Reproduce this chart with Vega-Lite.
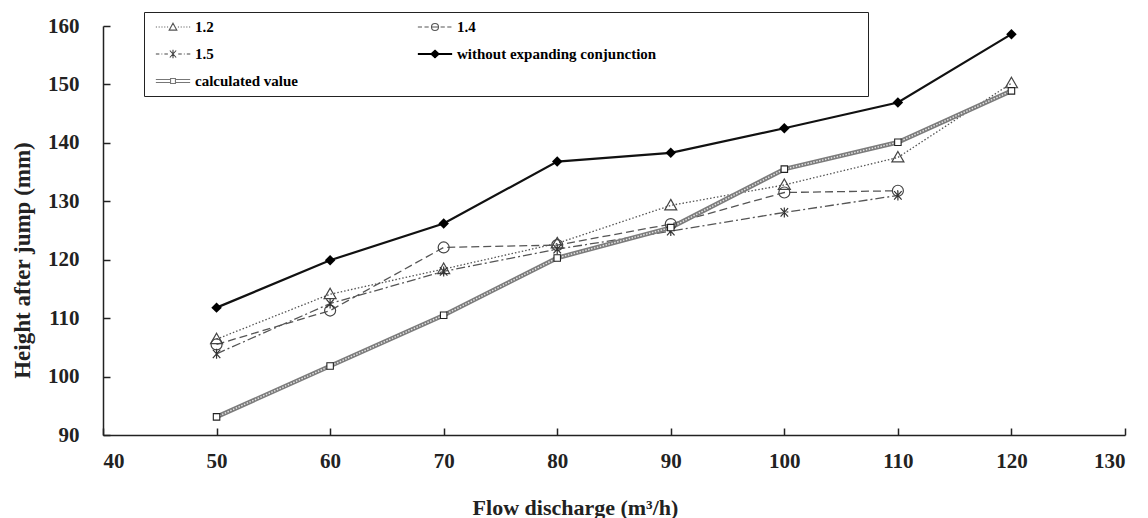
{
  "$schema": "https://vega.github.io/schema/vega-lite/v6.json",
  "width": 1022,
  "height": 409,
  "autosize": "none",
  "padding": {"left": 103, "top": 26, "right": 23, "bottom": 83},
  "background": "white",
  "config": {"view": {"stroke": null}, "font": "Liberation Serif"},
  "data": {
    "values": [
      {"s": "1.2", "q": 50, "h": 106.4}, {"s": "1.2", "q": 60, "h": 114.1}, {"s": "1.2", "q": 70, "h": 118.4}, {"s": "1.2", "q": 80, "h": 122.8},
      {"s": "1.2", "q": 90, "h": 129.3}, {"s": "1.2", "q": 100, "h": 132.8}, {"s": "1.2", "q": 110, "h": 137.5}, {"s": "1.2", "q": 120, "h": 150.2},
      {"s": "1.4", "q": 50, "h": 105.5}, {"s": "1.4", "q": 60, "h": 111.3}, {"s": "1.4", "q": 70, "h": 122.1}, {"s": "1.4", "q": 80, "h": 122.5},
      {"s": "1.4", "q": 90, "h": 126.1}, {"s": "1.4", "q": 100, "h": 131.5}, {"s": "1.4", "q": 110, "h": 131.8},
      {"s": "1.5", "q": 50, "h": 103.9}, {"s": "1.5", "q": 60, "h": 112.5}, {"s": "1.5", "q": 70, "h": 118.0}, {"s": "1.5", "q": 80, "h": 121.8},
      {"s": "1.5", "q": 90, "h": 124.9}, {"s": "1.5", "q": 100, "h": 128.1}, {"s": "1.5", "q": 110, "h": 131.0},
      {"s": "without expanding conjunction", "q": 50, "h": 111.8}, {"s": "without expanding conjunction", "q": 60, "h": 119.9},
      {"s": "without expanding conjunction", "q": 70, "h": 126.2}, {"s": "without expanding conjunction", "q": 80, "h": 136.8},
      {"s": "without expanding conjunction", "q": 90, "h": 138.3}, {"s": "without expanding conjunction", "q": 100, "h": 142.5},
      {"s": "without expanding conjunction", "q": 110, "h": 146.9}, {"s": "without expanding conjunction", "q": 120, "h": 158.6},
      {"s": "calculated value", "q": 50, "h": 93.1}, {"s": "calculated value", "q": 60, "h": 101.8}, {"s": "calculated value", "q": 70, "h": 110.5},
      {"s": "calculated value", "q": 80, "h": 120.3}, {"s": "calculated value", "q": 90, "h": 125.5}, {"s": "calculated value", "q": 100, "h": 135.5},
      {"s": "calculated value", "q": 110, "h": 140.1}, {"s": "calculated value", "q": 120, "h": 148.9}
    ]
  },
  "encoding": {
    "x": {
      "field": "q", "type": "quantitative",
      "scale": {"domain": [40, 130], "nice": false, "zero": false},
      "axis": {
        "title": "Flow discharge (m³/h)", "values": [40, 50, 60, 70, 80, 90, 100, 110, 120, 130],
        "grid": false, "domainColor": "#222", "domainWidth": 1.5, "tickColor": "#222", "tickWidth": 1.5, "tickSize": -7,
        "labelPadding": 22, "labelFont": "Liberation Serif", "labelFontWeight": "bold", "labelFontSize": 21, "labelColor": "#222",
        "titleFont": "Liberation Serif", "titleFontWeight": "bold", "titleFontSize": 22, "titleColor": "#222",
        "titleX": 472, "titleY": 72, "titleBaseline": "middle", "titleAlign": "center"
      }
    },
    "y": {
      "field": "h", "type": "quantitative",
      "scale": {"domain": [90, 160], "nice": false, "zero": false},
      "axis": {
        "title": "Height after jump (mm)", "values": [90, 100, 110, 120, 130, 140, 150, 160],
        "grid": false, "domainColor": "#222", "domainWidth": 1.5, "tickColor": "#222", "tickWidth": 1.5, "tickSize": -7,
        "labelPadding": 31, "labelFont": "Liberation Serif", "labelFontWeight": "bold", "labelFontSize": 21, "labelColor": "#222",
        "titleFont": "Liberation Serif", "titleFontWeight": "bold", "titleFontSize": 23, "titleColor": "#222",
        "titleX": -81, "titleY": 234, "titleBaseline": "middle", "titleAlign": "center", "titleAngle": -90
      }
    }
  },
  "layer": [
    {
      "transform": [{"filter": "datum.s === '1.2'"}],
      "mark": {"type": "line", "color": "#555", "strokeWidth": 1.3, "strokeDash": [1.5, 2]},
      "encoding": {}
    },
    {
      "transform": [{"filter": "datum.s === '1.4'"}],
      "mark": {"type": "line", "color": "#555", "strokeWidth": 1.3, "strokeDash": [8, 4]},
      "encoding": {}
    },
    {
      "transform": [{"filter": "datum.s === '1.5'"}],
      "mark": {"type": "line", "color": "#555", "strokeWidth": 1.3, "strokeDash": [9, 3, 2, 3]},
      "encoding": {}
    },
    {
      "transform": [{"filter": "datum.s === 'without expanding conjunction'"}],
      "mark": {"type": "line", "color": "#111", "strokeWidth": 2.2},
      "encoding": {}
    },
    {
      "transform": [{"filter": "datum.s === 'calculated value'"}],
      "mark": {"type": "line", "color": "#7c7c7c", "strokeWidth": 4.5},
      "encoding": {}
    },
    {
      "transform": [{"filter": "datum.s === 'calculated value'"}],
      "mark": {"type": "line", "color": "#e2e2e2", "strokeWidth": 1.5, "strokeDash": [1.5, 1.5]},
      "encoding": {}
    },
    {
      "transform": [{"filter": "datum.s === '1.2'"}],
      "mark": {"type": "point", "shape": "M0,-1L1,0.75L-1,0.75Z", "size": 144, "filled": false, "stroke": "#444", "strokeWidth": 1.2, "opacity": 1},
      "encoding": {}
    },
    {
      "transform": [{"filter": "datum.s === '1.4'"}],
      "mark": {"type": "point", "shape": "circle", "size": 121, "filled": false, "stroke": "#444", "strokeWidth": 1.2, "opacity": 1},
      "encoding": {}
    },
    {
      "transform": [{"filter": "datum.s === '1.5'"}],
      "mark": {"type": "point", "shape": "M-0.75,-0.85L0.75,0.85M-0.75,0.85L0.75,-0.85M0,-1L0,1", "size": 100, "filled": false, "stroke": "#333", "strokeWidth": 1.2, "opacity": 1},
      "encoding": {}
    },
    {
      "transform": [{"filter": "datum.s === 'without expanding conjunction'"}],
      "mark": {"type": "point", "shape": "diamond", "size": 110, "filled": true, "color": "#000", "opacity": 1},
      "encoding": {}
    },
    {
      "transform": [{"filter": "datum.s === 'calculated value'"}],
      "mark": {"type": "point", "shape": "square", "size": 42, "filled": true, "fill": "#fff", "stroke": "#222", "strokeWidth": 1.1, "opacity": 1},
      "encoding": {}
    },
    {
      "mark": {"type": "point", "filled": false, "opacity": 0},
      "encoding": {
        "shape": {
          "field": "s", "type": "nominal",
          "scale": {
            "domain": ["1.2", "1.4", "1.5", "without expanding conjunction", "calculated value"],
            "range": [
              "M-2.45,0h0.15m0.25,0h0.15m0.25,0h0.15m0.25,0h0.15m0.25,0h0.15M0.7,0h0.15m0.25,0h0.15m0.25,0h0.15m0.25,0h0.15m0.25,0h0.15M0,-0.55L0.55,0.45L-0.55,0.45Z",
              "M-2.45,0h0.6m0.35,0h0.6M0.8,0h0.6m0.35,0h0.6M-0.5,0A0.5,0.5 0 1,1 0.5,0A0.5,0.5 0 1,1 -0.5,0ZM-0.5,0L0.5,0",
              "M-2.45,0h0.5m0.3,0h0.12m0.3,0h0.5M0.75,0h0.5m0.3,0h0.12m0.3,0h0.5M-0.45,-0.5L0.45,0.5M-0.45,0.5L0.45,-0.5M0,-0.6L0,0.6",
              "M-2.45,-0.06L2.45,-0.06M-2.45,0.06L2.45,0.06M0,-0.55L0.6,0L0,0.55L-0.6,0ZM60.5,0",
              "M-2.45,-0.22L-0.4,-0.22M-2.45,0.22L-0.4,0.22M0.4,-0.22L2.45,-0.22M0.4,0.22L2.45,0.22M-0.35,-0.35L0.35,-0.35L0.35,0.35L-0.35,0.35Z"
            ]
          },
          "legend": {
            "title": null, "orient": "none", "legendX": 41, "legendY": -14, "direction": "horizontal", "columns": 2, "columnPadding": 115, "rowPadding": 11,
            "padding": 7, "strokeColor": "#222", "fillColor": "white", "symbolSize": 196, "symbolStrokeWidth": 1.1,
            "symbolOffset": 14, "labelOffset": 14, "labelFont": "Liberation Serif", "labelFontSize": 15, "labelFontWeight": "bold",
            "labelColor": "#000", "labelLimit": 600, "symbolOpacity": 1,
            "encode": {"legend": {"update": {"strokeWidth": {"value": 1.5}}}, "symbols": {"update": {"opacity": {"value": 1}}}}
          }
        },
        "stroke": {"field": "s", "type": "nominal",
          "scale": {"domain": ["1.2", "1.4", "1.5", "without expanding conjunction", "calculated value"], "range": ["#555", "#555", "#444", "#000", "#777"]}},
        "fill": {"field": "s", "type": "nominal",
          "scale": {"domain": ["1.2", "1.4", "1.5", "without expanding conjunction", "calculated value"], "range": ["transparent", "transparent", "transparent", "#000", "#fff"]}}
      }
    }
  ]
}
